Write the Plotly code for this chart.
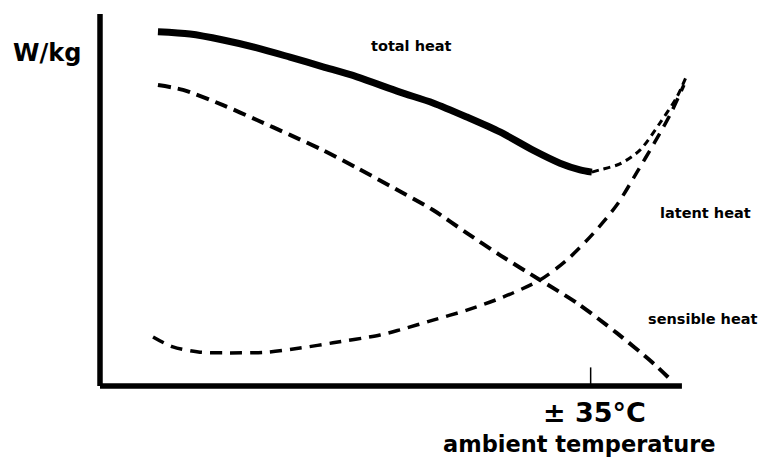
import plotly.graph_objects as go

# ---- data (arbitrary units: x ~ ambient temperature, y ~ W/kg) ----
total_x = [4.14, 6.43, 8.79, 11.21, 13.57, 15.93, 18.36, 21.43, 23.79, 26.21, 28.57,
           30.93, 32.86, 34.29, 35.14]
total_y = [95.2, 94.6, 93.0, 90.9, 88.4, 85.8, 83.1, 79.0, 76.1, 72.3, 68.3,
           63.4, 59.9, 58.1, 57.5]

total_hot_x = [35.14, 35.71, 37.14, 38.57, 40.0, 41.21, 41.93]
total_hot_y = [57.5, 58.1, 59.7, 63.4, 70.7, 77.7, 83.6]

latent_x = [3.79, 5.21, 7.14, 9.07, 11.93, 14.29, 16.64, 20.0, 21.43, 23.79, 26.21,
            28.79, 31.43, 33.36, 35.21, 36.93, 38.36, 39.64, 40.71, 41.71]
latent_y = [13.2, 10.5, 9.1, 8.9, 9.1, 10.2, 11.6, 13.7, 15.1, 17.7, 20.4,
            23.9, 28.5, 33.9, 40.9, 48.7, 57.5, 65.6, 72.8, 80.9]

sensible_x = [4.14, 5.93, 8.79, 11.21, 13.57, 15.93, 18.36, 20.71, 23.79, 26.21,
              28.57, 31.43, 34.07, 36.93, 39.5, 40.93]
sensible_y = [80.9, 79.6, 75.5, 71.5, 67.5, 63.4, 58.6, 53.8, 47.3, 41.1,
              35.2, 28.5, 22.3, 14.2, 6.2, 1.1]

tick_x = 35.05
tick_label = "± 35°C"
x_axis_end = 41.57
x_range = [0, 44.29]
y_range = [0, 100]

FONT = "DejaVu Sans"

fig = go.Figure()
fig.add_trace(go.Scatter(x=total_x, y=total_y, mode="lines",
                         line=dict(color="black", width=7, shape="spline", smoothing=0.8),
                         name="total heat", showlegend=False))
fig.add_trace(go.Scatter(x=total_hot_x, y=total_hot_y, mode="lines",
                         line=dict(color="black", width=3, shape="spline", smoothing=0.8,
                                   dash="7px,5px"),
                         name="total heat", showlegend=False))
fig.add_trace(go.Scatter(x=latent_x, y=latent_y, mode="lines",
                         line=dict(color="black", width=3.5, shape="spline", smoothing=0.8,
                                   dash="12px,8px"),
                         name="latent heat", showlegend=False))
fig.add_trace(go.Scatter(x=sensible_x, y=sensible_y, mode="lines",
                         line=dict(color="black", width=4, shape="spline", smoothing=0.8,
                                   dash="13px,7px"),
                         name="sensible heat", showlegend=False))

shapes = [
    dict(type="line", xref="paper", yref="paper", x0=0, x1=0, y0=0, y1=1,
         line=dict(color="black", width=5.5)),
    dict(type="line", xref="x", yref="paper", x0=0, x1=x_axis_end, y0=0, y1=0,
         line=dict(color="black", width=5.5)),
    dict(type="line", xref="x", yref="y", x0=tick_x, x1=tick_x, y0=0, y1=5,
         line=dict(color="black", width=1.5)),
]

def ann(text, x, y, size):
    return dict(text="<b>%s</b>" % text, x=x, y=y, xref="paper", yref="paper",
                xanchor="center", yanchor="middle", showarrow=False,
                font=dict(family=FONT, size=size, color="black"))

annotations = [
    ann("W/kg", -0.086, 0.894, 24),
    ann("total heat", 0.503, 0.914, 14.5),
    ann("latent heat", 0.976, 0.464, 14.5),
    ann("sensible heat", 0.973, 0.180, 14.5),
    ann(tick_label, 0.797, -0.0718, 27),
    ann("ambient temperature", 0.773, -0.156, 22.5),
]

fig.update_layout(
    width=760, height=459,
    margin=dict(l=100, r=40, t=14, b=73),
    paper_bgcolor="white", plot_bgcolor="white",
    xaxis=dict(range=x_range, visible=False),
    yaxis=dict(range=y_range, visible=False),
    shapes=shapes, annotations=annotations,
)

fig.write_html("out.html", config={"displayModeBar": False},
               post_script="document.body.style.margin='0';document.body.style.overflow='hidden';")
